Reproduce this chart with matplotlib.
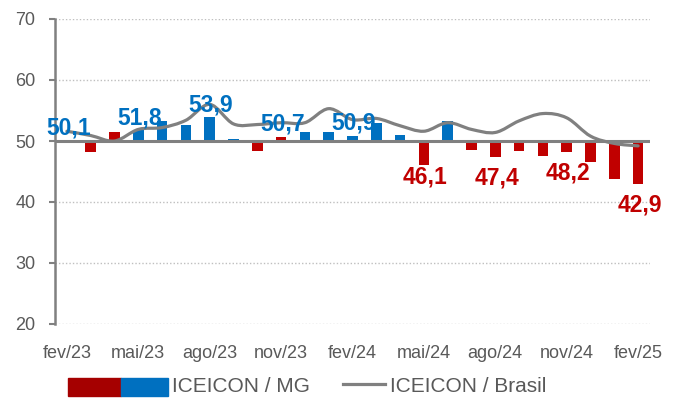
import matplotlib
matplotlib.use("Agg")
import matplotlib.pyplot as plt
from matplotlib.path import Path
from matplotlib.patches import PathPatch, Rectangle
from matplotlib.lines import Line2D
import numpy as np

plt.rcParams['font.family'] = ['Liberation Sans', 'DejaVu Sans']

meses = ['fev/23', 'mar/23', 'abr/23', 'mai/23', 'jun/23', 'jul/23', 'ago/23', 'set/23',
         'out/23', 'nov/23', 'dez/23', 'jan/24', 'fev/24', 'mar/24', 'abr/24', 'mai/24',
         'jun/24', 'jul/24', 'ago/24', 'set/24', 'out/24', 'nov/24', 'dez/24', 'jan/25', 'fev/25']
mg = [50.1, 48.2, 51.4, 51.8, 53.3, 52.6, 53.9, 50.3, 48.3, 50.7, 51.4, 51.4, 50.9,
      53.0, 51.0, 46.1, 53.3, 48.5, 47.4, 48.3, 47.6, 48.2, 46.6, 43.8, 42.9]
# cor de cada barra como no original (r = vermelho, b = azul)
cores_mg = ['r', 'r', 'r', 'b', 'b', 'b', 'b', 'b', 'r', 'r', 'b', 'b', 'b',
            'b', 'b', 'r', 'b', 'r', 'r', 'r', 'r', 'r', 'r', 'r', 'r']
brasil = [51.6, 50.9, 50.0, 51.9, 52.2, 53.4, 56.0, 52.8, 52.7, 53.0, 53.0, 55.3, 53.5,
          53.7, 52.5, 51.6, 53.0, 51.9, 51.4, 53.3, 54.5, 53.8, 50.8, 49.6, 49.2]
rotulos = [0, 3, 6, 9, 12, 15, 18, 21, 24]   # meses com valor escrito

VERM = '#C00000'
AZUL = '#0070C0'
CINZA = '#808080'
TXT = '#595959'

fig = plt.figure(figsize=(6.8, 4.01), dpi=100)
ax = fig.add_axes([55/680, 1-324/401, 595/680, 305/401])

x = np.arange(len(meses))
base = 50
cols = [VERM if c == 'r' else AZUL for c in cores_mg]
ax.bar(x, np.array(mg) - base, bottom=base, width=0.44, color=cols, zorder=3)

# linha suavizada (Bezier estilo Excel)
pts = np.column_stack([x, brasil]).astype(float)
verts = [pts[0]]
codes = [Path.MOVETO]
n = len(pts)
for i in range(n - 1):
    p0 = pts[max(i - 1, 0)]
    p1 = pts[i]
    p2 = pts[i + 1]
    p3 = pts[min(i + 2, n - 1)]
    c1 = p1 + (p2 - p0) / 6
    c2 = p2 - (p3 - p1) / 6
    verts += [c1, c2, p2]
    codes += [Path.CURVE4] * 3
ax.add_patch(PathPatch(Path(verts, codes), fill=False, edgecolor=CINZA, lw=2.3, zorder=4,
                       capstyle='round'))

ax.axhline(base, color=CINZA, lw=2.2, zorder=5)

# rotulos de dados
for i in rotulos:
    v = mg[i]
    txt = f'{v:.1f}'.replace('.', ',')
    if v >= base:
        ax.annotate(txt, (x[i], v), xytext=(1, 9), textcoords='offset points',
                    ha='center', va='center', color=AZUL, fontsize=16.5, fontweight='bold', zorder=6)
    else:
        dy = -9 if v < 46.5 and i < 20 else -15
        ax.annotate(txt, (x[i], v), xytext=(1, dy), textcoords='offset points',
                    ha='center', va='center', color=VERM, fontsize=16.5, fontweight='bold', zorder=6)

ax.set_xlim(-0.5, 24.5)
ax.set_ylim(20, 70)
ax.set_yticks([20, 30, 40, 50, 60, 70])
ax.set_xticks(x[::3])
ax.set_xticklabels(meses[::3])
for y in [20, 30, 40, 60, 70]:
    ax.axhline(y, color='#BFBFBF', lw=1, ls=(0, (1, 1.5)), zorder=1)

for s in ['top', 'right', 'bottom']:
    ax.spines[s].set_visible(False)
ax.spines['left'].set_color(CINZA)
ax.spines['left'].set_linewidth(1.8)
ax.tick_params(axis='y', colors=CINZA, length=4, width=1.5, labelsize=13, labelcolor=TXT, pad=10)
ax.tick_params(axis='x', length=0, labelsize=13, labelcolor=TXT, pad=15)

# legenda
fig.add_artist(Rectangle((68/680, 1-396/401), 53/680, 18/401, color='#A50000', transform=fig.transFigure))
fig.add_artist(Rectangle((121/680, 1-396/401), 47/680, 18/401, color=AZUL, transform=fig.transFigure))
fig.text(172/680, 1-386/401, 'ICEICON / MG', color=TXT, fontsize=15, va='center', ha='left')
fig.add_artist(Line2D([343/680, 385/680], [1-384/401, 1-384/401], color=CINZA, lw=2.3,
                      transform=fig.transFigure))
fig.text(390/680, 1-386/401, 'ICEICON / Brasil', color=TXT, fontsize=15, va='center', ha='left')

fig.savefig('out.png', dpi=100)
